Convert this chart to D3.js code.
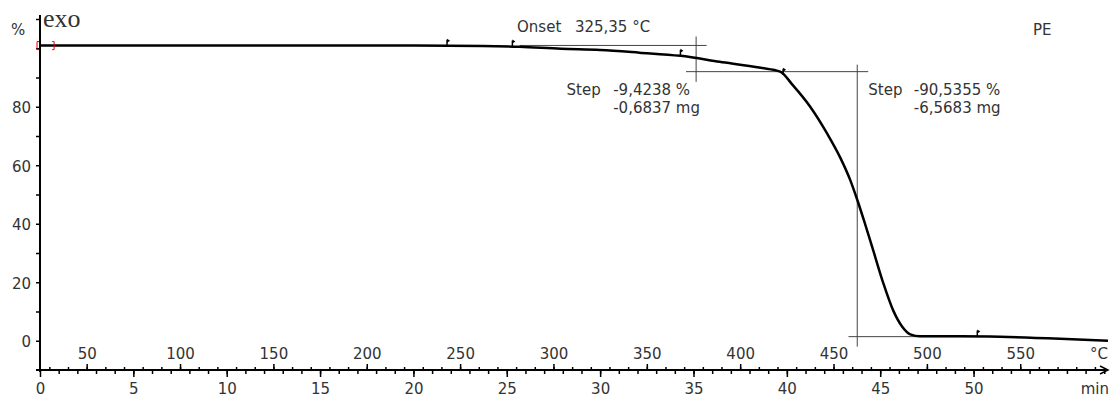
<!DOCTYPE html>
<html>
<head>
<meta charset="utf-8">
<script src="https://cdn.jsdelivr.net/npm/d3@7"></script>
<style>
  body { margin: 0; background: #fff; }
  svg text { font-family: "DejaVu Sans", sans-serif; font-size: 15px; fill: #333; }
</style>
</head>
<body>
<div id="chart"></div>
<script>
// Datos TGA (PE)
const timeMin = [0, 10, 20, 23.7, 25.7, 27.9, 30.0, 32.1, 34.3, 36.4, 38.6, 39.64, 40.34, 41.25, 42.16, 42.86, 43.39, 43.77, 44.2, 44.63, 45.16, 45.7, 46.18, 46.61, 47.14, 49.3, 51.43, 54.64, 57.2];
const massPct = [100.9, 100.9, 100.9, 100.8, 100.5, 99.8, 99.4, 98.5, 97.4, 95.4, 93.3, 92.0, 87.2, 80.0, 70.8, 62.6, 55.0, 48.2, 39.7, 30.8, 19.8, 10.3, 4.8, 2.2, 1.5, 1.5, 1.35, 0.7, 0.0];

// Marcas sobre la curva (min)
const markerTimes = [21.8, 25.3, 34.3, 39.8, 50.2];

// Ejes
const timeTicks = d3.range(0, 51, 5);
const tempTicks = d3.range(50, 551, 50);
const pctLabels = [0, 20, 40, 60, 80];
const pctTicks = d3.range(0, 111, 10);

// Evaluaciones: onset y steps
const onsetLabel = ['Onset', '325,35 °C'];
const step1Label = ['Step', '-9,4238 %', '-0,6837 mg'];
const step2Label = ['Step', '-90,5355 %', '-6,5683 mg'];

const width = 1110, height = 399;

const svg = d3.select('#chart').append('svg')
  .attr('width', width).attr('height', height);

const x = d3.scaleLinear().domain([0, 57.2]).range([40, 1108]);
const xT = d3.scaleLinear().domain([25, 597]).range([40, 1108]); // 10 K/min
const y = d3.scaleLinear().domain([-10, 110]).range([370, 19]);

const data = timeMin.map((t, i) => ({ t: t, v: massPct[i] }));
const valueAt = t => {
  const i = d3.bisector(d => d.t).left(data, t);
  if (i <= 0) return data[0].v;
  const a = data[i - 1], b = data[i];
  return a.v + (b.v - a.v) * (t - a.t) / (b.t - a.t);
};

// Eje Y
const yAxis = svg.append('g').attr('transform', 'translate(40,0)')
  .call(d3.axisLeft(y).tickValues(pctTicks).tickSize(4).tickSizeOuter(0)
    .tickFormat(d => pctLabels.includes(d) ? d : ''));
yAxis.select('.domain').remove();
yAxis.selectAll('text').attr('x', -9).attr('dy', '0.4em');
svg.append('line').attr('x1', 40).attr('x2', 40).attr('y1', 15).attr('y2', 372)
  .attr('stroke', '#000').attr('stroke-width', 2);

// Eje X tiempo (abajo)
const xMinor = svg.append('g').attr('transform', 'translate(0,370)')
  .call(d3.axisBottom(x).tickValues(d3.range(1, 58)).tickSize(4).tickFormat(''));
xMinor.select('.domain').remove();
const xMajor = svg.append('g').attr('transform', 'translate(0,370)')
  .call(d3.axisBottom(x).tickValues(timeTicks).tickSize(7).tickPadding(6));
xMajor.select('.domain').remove();

// Eje X temperatura (arriba)
const tMinor = svg.append('g').attr('transform', 'translate(0,370)')
  .call(d3.axisTop(xT).tickValues(d3.range(30, 596, 10)).tickSize(3).tickFormat(''));
tMinor.select('.domain').remove();
const tMajor = svg.append('g').attr('transform', 'translate(0,370)')
  .call(d3.axisTop(xT).tickValues(tempTicks).tickSize(6).tickPadding(5));
tMajor.select('.domain').remove();

svg.selectAll('.tick line').attr('stroke', '#000').attr('stroke-width', 1.5);
svg.selectAll('.tick text').style('font-size', '15px').style('font-family', '"DejaVu Sans", sans-serif').attr('fill', '#333');

svg.append('line').attr('x1', 36).attr('x2', 1106).attr('y1', 370).attr('y2', 370)
  .attr('stroke', '#000').attr('stroke-width', 2);
svg.append('path').attr('d', 'M1100,366 L1108,370 L1100,374')
  .attr('fill', 'none').attr('stroke', '#000').attr('stroke-width', 1.5);

svg.append('text').attr('x', 1108).attr('y', 359).attr('text-anchor', 'end').text('°C');
svg.append('text').attr('x', 1109).attr('y', 394).attr('text-anchor', 'end').text('min');
svg.append('text').attr('x', 11).attr('y', 35).text('%');
svg.append('text').attr('x', 43).attr('y', 27)
  .style('font-family', '"Liberation Serif", serif').style('font-size', '26px').attr('fill', '#000').text('exo');
svg.append('text').attr('x', 1033).attr('y', 35).text('PE');

// Lineas de evaluacion
const evalLines = [
  { t1: 25.7, v1: 100.96, t2: 35.7, v2: 100.96 },
  { t1: 35.14, v1: 104, t2: 35.14, v2: 88.5 },
  { t1: 34.6, v1: 92.0, t2: 44.36, v2: 92.0 },
  { t1: 43.77, v1: 94.4, t2: 43.77, v2: -2 },
  { t1: 43.3, v1: 1.4, t2: 50.5, v2: 1.4 }
];
svg.append('g').selectAll('line').data(evalLines).enter().append('line')
  .attr('x1', d => x(d.t1)).attr('x2', d => x(d.t2))
  .attr('y1', d => y(d.v1)).attr('y2', d => y(d.v2))
  .attr('stroke', '#444').attr('stroke-width', 1);

// Curva TG
const line = d3.line().x(d => x(d.t)).y(d => y(d.v)).curve(d3.curveMonotoneX);
svg.append('path').datum(data).attr('d', line)
  .attr('fill', 'none').attr('stroke', '#000').attr('stroke-width', 2.5);

// Marcas
const mk = svg.append('g').selectAll('g').data(markerTimes).enter().append('g')
  .attr('transform', t => 'translate(' + x(t) + ',' + y(valueAt(t)) + ')');
mk.append('line').attr('x1', 0).attr('x2', 0).attr('y1', 0).attr('y2', -6)
  .attr('stroke', '#000').attr('stroke-width', 1.5);
mk.append('path').attr('d', 'M0,-7 L3,-5 L0,-3 Z').attr('fill', '#000');

// Corchetes rojos al inicio
const y0 = y(valueAt(0));
svg.append('path')
  .attr('d', 'M' + (x(0) - 1) + ',' + (y0 - 4) + ' h-2 v8 h2')
  .attr('fill', 'none').attr('stroke', '#e00').attr('stroke-width', 1);
svg.append('path')
  .attr('d', 'M' + (x(0.65)) + ',' + (y0 - 4) + ' h2 v8 h-2')
  .attr('fill', 'none').attr('stroke', '#e00').attr('stroke-width', 1);

// Textos de evaluacion
svg.append('text').attr('x', x(25.55)).attr('y', y(105.6)).text(onsetLabel[0]);
svg.append('text').attr('x', x(28.65)).attr('y', y(105.6)).text(onsetLabel[1]);

svg.append('text').attr('x', x(28.2)).attr('y', y(84.1)).text(step1Label[0]);
svg.append('text').attr('x', x(30.7)).attr('y', y(84.1)).text(step1Label[1]);
svg.append('text').attr('x', x(30.7)).attr('y', y(78.0)).text(step1Label[2]);

svg.append('text').attr('x', x(44.36)).attr('y', y(84.1)).text(step2Label[0]);
svg.append('text').attr('x', x(46.8)).attr('y', y(84.1)).text(step2Label[1]);
svg.append('text').attr('x', x(46.8)).attr('y', y(78.0)).text(step2Label[2]);
</script>
</body>
</html>
